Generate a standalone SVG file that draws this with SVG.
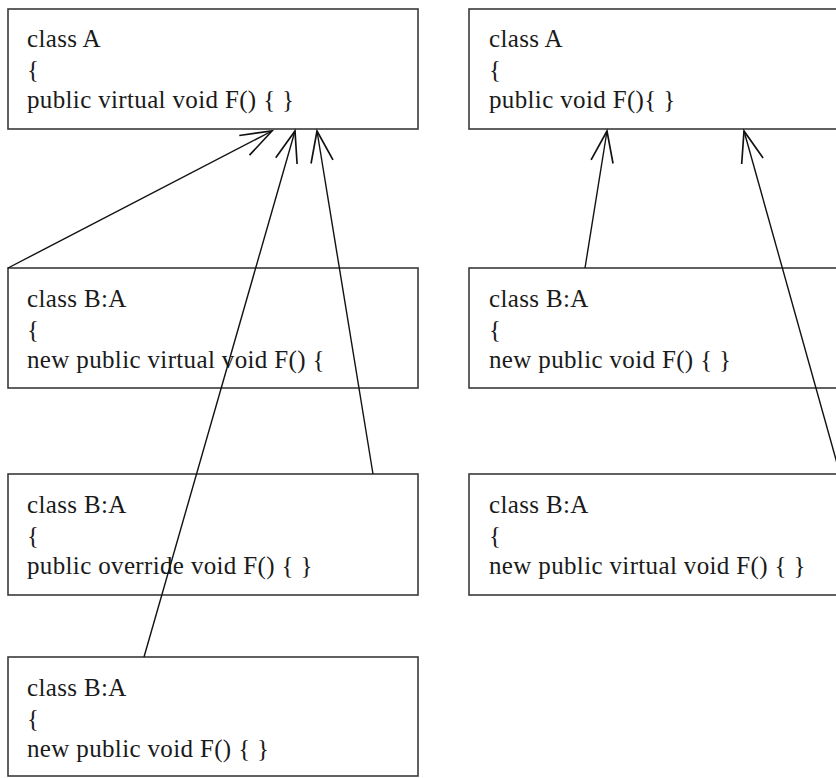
<svg xmlns="http://www.w3.org/2000/svg" width="836" height="778" viewBox="0 0 836 778">
<style>
.box{fill:#fff;stroke:#3a3a3a;stroke-width:1.6}
.t{font-family:"Liberation Serif","Times New Roman",serif;font-size:25px;letter-spacing:0.35px;fill:#1a1a1a}
.c{fill:none;stroke:#111;stroke-width:1.4}
</style>
<defs>
<marker id="arr" markerUnits="userSpaceOnUse" markerWidth="40" markerHeight="40" viewBox="-32 -16 36 32" refX="0" refY="0" orient="auto">
<path d="M-28,-10 L0,0 L-28,10" fill="none" stroke="#111" stroke-width="1.5"/>
</marker>
</defs>
<rect width="836" height="778" fill="#fff"/>
<g id="nodeL1"><rect class="box" x="8" y="9" width="410" height="120"/>
<text class="t" x="27" y="47">class A</text><text class="t" x="27" y="78">{</text><text class="t" x="27" y="108">public virtual void F() { }</text></g>
<g id="nodeL2"><rect class="box" x="8" y="268" width="410" height="120"/>
<text class="t" x="27" y="307">class B:A</text><text class="t" x="27" y="338">{</text><text class="t" x="27" y="368">new public virtual void F() {</text></g>
<g id="nodeL3"><rect class="box" x="8" y="474" width="410" height="121"/>
<text class="t" x="27" y="513">class B:A</text><text class="t" x="27" y="544">{</text><text class="t" x="27" y="574">public override void F() { }</text></g>
<g id="nodeL4"><rect class="box" x="8" y="657" width="410" height="119"/>
<text class="t" x="27" y="696">class B:A</text><text class="t" x="27" y="727">{</text><text class="t" x="27" y="757">new public void F() { }</text></g>
<g id="nodeR1"><rect class="box" x="469" y="9" width="380" height="120"/>
<text class="t" x="489" y="47">class A</text><text class="t" x="489" y="78">{</text><text class="t" x="489" y="108">public void F(){ }</text></g>
<g id="nodeR2"><rect class="box" x="469" y="268" width="380" height="120"/>
<text class="t" x="489" y="307">class B:A</text><text class="t" x="489" y="338">{</text><text class="t" x="489" y="368">new public void F() { }</text></g>
<g id="nodeR3"><rect class="box" x="469" y="474" width="380" height="121"/>
<text class="t" x="489" y="513">class B:A</text><text class="t" x="489" y="544">{</text><text class="t" x="489" y="574">new public virtual void F() { }</text></g>
<g id="connectors">
<line class="c" x1="8" y1="268" x2="272" y2="131" marker-end="url(#arr)"/>
<line class="c" x1="144" y1="657" x2="295" y2="131" marker-end="url(#arr)"/>
<line class="c" x1="373" y1="474" x2="317" y2="131" marker-end="url(#arr)"/>
<line class="c" x1="585" y1="268" x2="607" y2="131" marker-end="url(#arr)"/>
<line class="c" x1="840" y1="474" x2="744" y2="131" marker-end="url(#arr)"/>
</g>
</svg>
